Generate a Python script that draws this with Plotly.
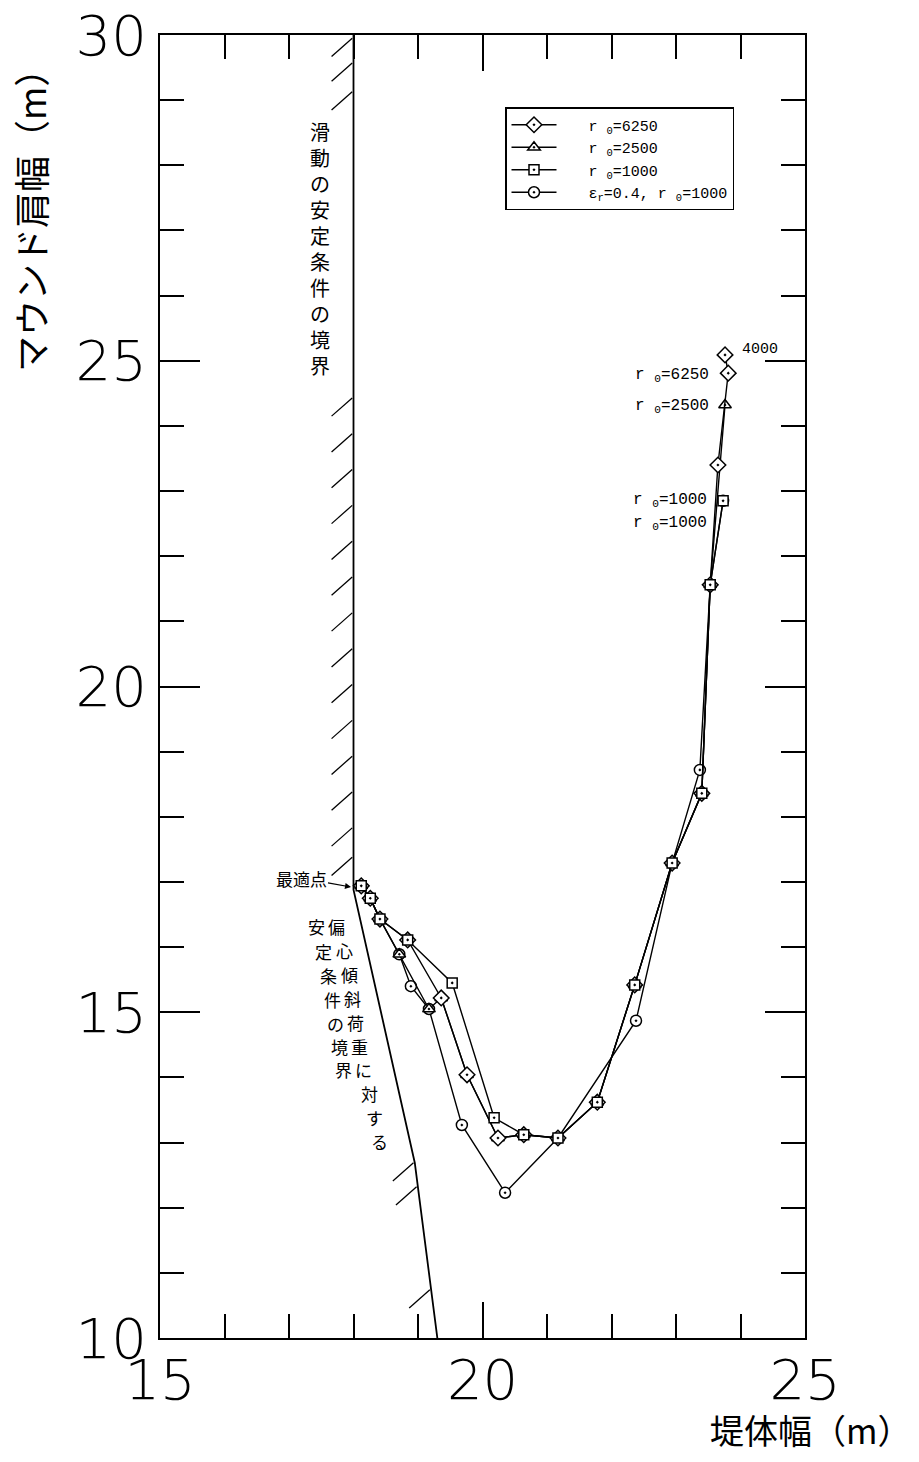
import numpy as np
import plotly.graph_objects as go

# ---------------- data ----------------
# r0 = 6250 (diamond)
diamond_x = [18.12, 18.26, 18.41, 18.84, 19.36, 19.76, 20.24, 20.64, 21.17, 21.78, 22.36, 22.94, 23.40, 23.53, 23.65, 23.81, 23.76]
diamond_y = [16.94, 16.75, 16.43, 16.11, 15.22, 14.04, 13.07, 13.12, 13.07, 13.62, 15.42, 17.29, 18.36, 21.56, 23.40, 24.81, 25.09]
# r0 = 2500 (triangle)
triangle_x = [18.12, 18.26, 18.41, 18.71, 19.17, 19.36, 19.76, 20.24, 20.64, 21.17, 21.78, 22.36, 22.94, 23.40, 23.53, 23.76]
triangle_y = [16.94, 16.75, 16.43, 15.89, 15.05, 15.22, 14.04, 13.07, 13.12, 13.07, 13.62, 15.42, 17.29, 18.36, 21.56, 24.32]
# r0 = 1000 (square)
square_x = [18.12, 18.26, 18.41, 18.84, 19.53, 20.18, 20.64, 21.17, 21.78, 22.36, 22.94, 23.40, 23.53, 23.73]
square_y = [16.94, 16.75, 16.43, 16.11, 15.45, 13.38, 13.12, 13.07, 13.62, 15.42, 17.29, 18.36, 21.56, 22.85]
# eps_r = 0.4, r0 = 1000 (circle)
circle_x = [18.12, 18.26, 18.41, 18.71, 18.89, 19.17, 19.68, 20.35, 21.17, 22.38, 22.94, 23.37, 23.53, 23.73]
circle_y = [16.94, 16.75, 16.43, 15.89, 15.40, 15.05, 13.27, 12.23, 13.07, 14.87, 17.29, 18.72, 21.56, 22.85]

# stability boundaries
boundary_x = [18.00, 18.00, 18.95, 19.30]
boundary_y = [30.00, 16.88, 12.69, 10.00]
hatch_y = [29.95, 29.57, 29.13,
           24.43, 23.88, 23.33, 22.78, 22.23, 21.68, 21.13, 20.58, 20.03, 19.48, 18.93, 18.38, 17.83, 17.38,
           12.69, 12.32, 10.74]

legend_names = ["r&nbsp;<sub>0</sub>=6250", "r&nbsp;<sub>0</sub>=2500", "r&nbsp;<sub>0</sub>=1000",
                "ε<sub>r</sub>=0.4, r&nbsp;<sub>0</sub>=1000"]

x_ticks = [15, 20, 25]
y_ticks = [10, 15, 20, 25, 30]

# ---------------- layout helpers ----------------
W, H = 919, 1462
ML, MR, MT, MB = 160, 114, 35, 124
X0, X1, Y0, Y1 = 15, 25, 10, 30
PW, PH = W - ML - MR, H - MT - MB


def px2x(px):
    return X0 + (px - ML) / PW * (X1 - X0)


def py2y(py):
    return Y1 - (py - MT) / PH * (Y1 - Y0)


HATCH_DX, HATCH_DY = 0.34, 0.28
MONO = "Liberation Mono"
JP = "Noto Sans CJK JP"
THIN = "DejaVu Sans Light, DejaVu Sans ExtraLight, DejaVu Sans"

fig = go.Figure()

# boundary line
fig.add_trace(go.Scatter(x=boundary_x, y=boundary_y, mode="lines",
                         line=dict(color="black", width=1.8),
                         showlegend=False, hoverinfo="skip"))


def series(x, y, name, symbol, size, rank):
    return go.Scatter(x=x, y=y, mode="lines+markers", name="&nbsp;&nbsp;&nbsp;" + name, legendrank=rank,
                      line=dict(color="black", width=1.4),
                      marker=dict(symbol=symbol, size=size, color="white",
                                  line=dict(color="black", width=1.5)))


fig.add_trace(series(circle_x, circle_y, legend_names[3], "circle-dot", 11, 4))
fig.add_trace(series(triangle_x, triangle_y, legend_names[1], "triangle-up-dot", 11, 2))
fig.add_trace(series(diamond_x, diamond_y, legend_names[0], "diamond-dot", 12, 1))
fig.add_trace(series(square_x, square_y, legend_names[2], "square-dot", 10, 3))

# hatch marks along boundary
by_inc = boundary_y[::-1]
bx_inc = boundary_x[::-1]
shapes = []
for hy in hatch_y:
    bx = float(np.interp(hy, by_inc, bx_inc))
    shapes.append(dict(type="line", xref="x", yref="y",
                       x0=bx - HATCH_DX, y0=hy - HATCH_DY, x1=bx - 0.02, y1=hy,
                       line=dict(color="black", width=1.3)))

annotations = []

# axis titles
annotations.append(dict(text="マウンド肩幅（m）", xref="paper", yref="paper",
                        x=(30 - ML) / PW, y=1 - (212 - MT) / PH, textangle=-90,
                        xanchor="center", yanchor="middle",
                        showarrow=False, font=dict(family=JP, size=36, color="black")))
annotations.append(dict(text="堤体幅（m）", xref="paper", yref="paper",
                        x=(810 - ML) / PW, y=1 - (1429 - MT) / PH,
                        xanchor="center", yanchor="middle",
                        showarrow=False, font=dict(family=JP, size=34, color="black")))

# vertical label of sliding boundary
annotations.append(dict(text="<br>".join(list("滑動の安定条件の境界")), xref="x", yref="y",
                        x=px2x(320), y=py2y(248), showarrow=False,
                        xanchor="center", yanchor="middle",
                        font=dict(family=JP, size=20, color="black")))

# optimum point
annotations.append(dict(text="最適点", xref="x", yref="y", x=px2x(351), y=py2y(887),
                        ax=-50, ay=-9, axref="pixel", ayref="pixel", showarrow=True,
                        arrowhead=2, arrowsize=1, arrowwidth=1.2, arrowcolor="black",
                        standoff=0, font=dict(family=JP, size=17, color="black")))

# slanted two-column vertical text
left_col = [("安", 316, 926), ("定", 323, 951), ("条", 328, 975), ("件", 332, 999),
            ("の", 335, 1023), ("境", 339, 1046), ("界", 343, 1069)]
right_col = [("偏", 336, 926), ("心", 344, 950), ("傾", 349, 974), ("斜", 352, 998),
             ("荷", 355, 1022), ("重", 359, 1046), ("に", 363, 1069), ("対", 369, 1093),
             ("す", 374, 1117), ("る", 379, 1141)]
for ch, px, py in left_col + right_col:
    annotations.append(dict(text=ch, xref="x", yref="y", x=px2x(px), y=py2y(py),
                            xanchor="center", yanchor="middle",
                            showarrow=False, font=dict(family=JP, size=17, color="black")))

# r0 labels near curve ends
labels = [("4000", 740, 349, "left", 15), ("r&nbsp;<sub>0</sub>=6250", 711, 375, "right", 16),
          ("r&nbsp;<sub>0</sub>=2500", 711, 406, "right", 16), ("r&nbsp;<sub>0</sub>=1000", 709, 500, "right", 16),
          ("r&nbsp;<sub>0</sub>=1000", 709, 523, "right", 16)]
for t, px, py, anc, fs in labels:
    annotations.append(dict(text=t, xref="x", yref="y", x=px2x(px), y=py2y(py),
                            xanchor=anc, yanchor="middle", showarrow=False,
                            font=dict(family=MONO, size=fs, color="black")))

axis_common = dict(ticks="inside", tickcolor="black", tickwidth=1.5,
                   showline=True, linecolor="black", linewidth=2, mirror="ticks",
                   showgrid=False, zeroline=False, automargin=False,
                   tickfont=dict(family=THIN, size=56, color="black", weight=200),
                   minor=dict(dtick=1, ticks="inside", ticklen=24, tickwidth=1.5, tickcolor="black",
                              showgrid=False))

fig.update_xaxes(range=[X0, X1], tickvals=x_ticks, ticktext=[str(v) for v in x_ticks],
                 ticklen=36, ticklabelstandoff=-8, **axis_common)
fig.update_yaxes(range=[Y0, Y1], tickvals=y_ticks, ticktext=[str(v) for v in y_ticks],
                 ticklen=40, ticklabelstandoff=0, **axis_common)

fig.update_layout(
    width=W, height=H,
    margin=dict(l=ML, r=MR, t=MT, b=MB, pad=0, autoexpand=False),
    paper_bgcolor="white", plot_bgcolor="white",
    shapes=shapes, annotations=annotations,
    legend=dict(x=(505 - ML) / PW, y=1 - (107 - MT) / PH, xanchor="left", yanchor="top",
                bgcolor="white", bordercolor="black", borderwidth=1.5,
                font=dict(family=MONO, size=15, color="black"),
                itemwidth=45, tracegroupgap=0),
)

fig.write_html("out.html")
